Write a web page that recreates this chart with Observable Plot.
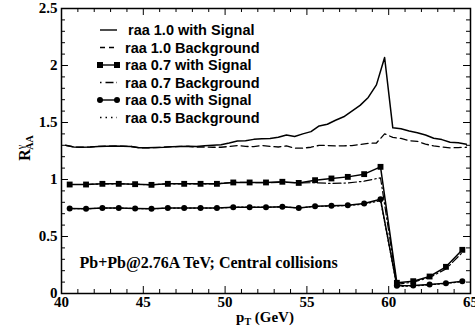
<!DOCTYPE html>
<html>
<head>
<meta charset="utf-8">
<script src="https://cdn.jsdelivr.net/npm/d3@7"></script>
<script src="https://cdn.jsdelivr.net/npm/@observablehq/plot@0.6"></script>
<style>
html,body{margin:0;padding:0;background:#fff;}
#chart{width:475px;height:330px;}
</style>
</head>
<body>
<div id="chart"></div>
<script>
// pT grid of the raa 1.0 curves
const ptFine = [40.25,40.75,41.25,41.75,42.25,42.75,43.25,43.75,44.25,44.75,
  45.25,45.75,46.25,46.75,47.25,47.75,48.25,48.75,49.25,49.75,
  50.25,50.75,51.25,51.75,52.25,52.75,53.25,53.75,54.25,54.75,
  55.25,55.75,56.25,56.75,57.25,57.75,58.25,58.75,59.25,59.75,
  60.25,60.75,61.25,61.75,62.25,62.75,63.25,63.75,64.25,64.75];
const raa10Signal = [1.300,1.285,1.283,1.285,1.290,1.292,1.293,1.292,1.290,1.278,
  1.278,1.280,1.283,1.288,1.290,1.292,1.290,1.295,1.300,1.305,
  1.320,1.337,1.340,1.352,1.357,1.360,1.370,1.390,1.377,1.400,
  1.420,1.470,1.485,1.520,1.550,1.600,1.650,1.720,1.830,2.070,
  1.453,1.445,1.425,1.410,1.390,1.362,1.350,1.327,1.322,1.310];
const raa10Bkg = [1.300,1.285,1.283,1.285,1.290,1.292,1.293,1.292,1.290,1.278,
  1.278,1.280,1.283,1.288,1.290,1.290,1.285,1.285,1.283,1.283,
  1.290,1.298,1.290,1.288,1.298,1.290,1.285,1.295,1.275,1.275,
  1.283,1.300,1.298,1.295,1.295,1.298,1.307,1.317,1.320,1.400,
  1.370,1.360,1.340,1.335,1.310,1.295,1.285,1.278,1.280,1.283];
// pT grid of the raa 0.7 / 0.5 curves
const ptCoarse = [40.5,41.5,42.5,43.5,44.5,45.5,46.5,47.5,48.5,49.5,
  50.5,51.5,52.5,53.5,54.5,55.5,56.5,57.5,58.5,59.5,
  60.5,61.5,62.5,63.5,64.5];
const raa07Signal = [0.956,0.956,0.962,0.962,0.959,0.953,0.962,0.962,0.962,0.962,
  0.974,0.974,0.974,0.980,0.970,0.994,1.009,1.023,1.047,1.111,
  0.094,0.108,0.149,0.234,0.383];
const raa07Bkg = [0.956,0.956,0.962,0.962,0.959,0.953,0.962,0.962,0.962,0.962,
  0.974,0.974,0.972,0.975,0.970,0.972,0.965,0.970,0.985,1.015,
  0.080,0.100,0.140,0.215,0.360];
const raa05Signal = [0.746,0.743,0.749,0.749,0.746,0.743,0.749,0.749,0.749,0.749,
  0.757,0.757,0.757,0.760,0.751,0.766,0.769,0.775,0.789,0.827,
  0.067,0.070,0.079,0.091,0.108];
const raa05Bkg = [0.746,0.743,0.749,0.749,0.746,0.743,0.749,0.749,0.749,0.749,
  0.757,0.757,0.757,0.760,0.751,0.764,0.767,0.772,0.784,0.815,
  0.062,0.066,0.076,0.088,0.104];

const xMajor = [40,45,50,55,60,65];
const yMajor = [0,0.5,1,1.5,2,2.5];
const xMinor = d3.range(40,66,1).filter(v => v % 5 !== 0);
const yMinor = d3.range(0,26).map(i => i/10).filter((v,i) => i % 5 !== 0);

const legendLabels = ["raa 1.0 with Signal","raa 1.0 Background","raa 0.7 with Signal",
  "raa 0.7 Background","raa 0.5 with Signal","raa 0.5 Background"];
const annotation = "Pb+Pb@2.76A TeV; Central collisions";

const zip = (xs, ys) => xs.map((x,i) => ({x, y: ys[i]}));
const s10 = zip(ptFine, raa10Signal), b10 = zip(ptFine, raa10Bkg);
const s07 = zip(ptCoarse, raa07Signal), b07 = zip(ptCoarse, raa07Bkg);
const s05 = zip(ptCoarse, raa05Signal), b05 = zip(ptCoarse, raa05Bkg);

const serif = "'Liberation Serif','Times New Roman',serif";
const xs = 25/410, ys = 2.5/285; // data units per pixel (for tick lengths)

const plot = Plot.plot({
  width: 475, height: 330,
  marginLeft: 61, marginRight: 5, marginTop: 8, marginBottom: 37,
  style: {fontFamily: serif, fontWeight: "bold", fontSize: "15px", background: "#fff", color: "#000", overflow: "visible"},
  x: {domain: [40,65]},
  y: {domain: [0,2.5]},
  marks: [
    Plot.axisX({ticks: xMajor, tickSize: 0, tickPadding: 3, label: null, tickFormat: d => String(d)}),
    Plot.axisY({ticks: yMajor, tickSize: 0, tickPadding: 4, label: null, tickFormat: d => String(d)}),
    // inward ticks
    Plot.ruleX(xMajor, {x: d => d, y1: 0, y2: 7*ys, stroke: "#000"}),
    Plot.ruleX(xMajor, {x: d => d, y1: 2.5, y2: 2.5-7*ys, stroke: "#000"}),
    Plot.ruleX(xMinor, {x: d => d, y1: 0, y2: 4*ys, stroke: "#000"}),
    Plot.ruleX(xMinor, {x: d => d, y1: 2.5, y2: 2.5-4*ys, stroke: "#000"}),
    Plot.ruleY(yMajor, {y: d => d, x1: 40, x2: 40+7*xs, stroke: "#000"}),
    Plot.ruleY(yMajor, {y: d => d, x1: 65, x2: 65-7*xs, stroke: "#000"}),
    Plot.ruleY(yMinor, {y: d => d, x1: 40, x2: 40+4*xs, stroke: "#000"}),
    Plot.ruleY(yMinor, {y: d => d, x1: 65, x2: 65-4*xs, stroke: "#000"}),
    // curves
    Plot.line(b10, {x: "x", y: "y", stroke: "#000", strokeWidth: 1.3, strokeDasharray: "7,4"}),
    Plot.line(s10, {x: "x", y: "y", stroke: "#000", strokeWidth: 1.5}),
    Plot.line(b07, {x: "x", y: "y", stroke: "#000", strokeWidth: 1.2, strokeDasharray: "8,3,1.5,3"}),
    Plot.line(s07, {x: "x", y: "y", stroke: "#000", strokeWidth: 1.5}),
    Plot.dot(s07, {x: "x", y: "y", symbol: "square", r: 3.3, fill: "#000", stroke: "none"}),
    Plot.line(b05, {x: "x", y: "y", stroke: "#000", strokeWidth: 1.2, strokeDasharray: "1.5,2.5"}),
    Plot.line(s05, {x: "x", y: "y", stroke: "#000", strokeWidth: 1.5}),
    Plot.dot(s05, {x: "x", y: "y", symbol: "circle", r: 3, fill: "#000", stroke: "none"}),
    Plot.text([annotation], {x: 41.1, y: 0.27, text: d => d,
      textAnchor: "start", fontSize: 16, fontWeight: "bold", fontFamily: serif, fill: "#000"}),
    Plot.frame({stroke: "#000", strokeWidth: 1.5})
  ]
});
document.getElementById("chart").appendChild(plot);

const svg = d3.select(plot);
// axis titles
const xt = svg.append("text").attr("x", 265).attr("y", 322).attr("text-anchor", "middle")
  .attr("font-family", serif).attr("font-weight", "bold").attr("font-size", 15).attr("fill", "#000");
xt.append("tspan").text("p");
xt.append("tspan").attr("font-size", 10).attr("dy", 3).text("T");
xt.append("tspan").attr("dy", -3).text(" (GeV)");

const yt = svg.append("text").attr("transform", "translate(30,148) rotate(-90)").attr("text-anchor", "middle")
  .attr("font-family", serif).attr("font-weight", "bold").attr("font-size", 16).attr("fill", "#000");
yt.append("tspan").text("R");
yt.append("tspan").attr("font-size", 10).attr("dy", -6).attr("font-weight", "normal").text("γ");
yt.append("tspan").attr("font-size", 10).attr("dy", 9).attr("dx", -5).text("AA");

// legend
const lg = svg.append("g").attr("font-family", "'Liberation Sans Narrow','Liberation Sans',Arial,sans-serif")
  .attr("font-size", 14.5).attr("font-weight", "bold").attr("fill", "#000").attr("text-anchor", "start");
const styles = [
  {dash: null, marker: null},
  {dash: "5,4", marker: null},
  {dash: null, marker: "square"},
  {dash: "1.5,4,8,3", marker: null},
  {dash: null, marker: "circle"},
  {dash: "1.5,4", marker: null}
];
legendLabels.forEach((lab, i) => {
  const yy = 30 + i*17.5;
  const st = styles[i];
  const ln = lg.append("line").attr("x1", 100).attr("x2", 117).attr("y1", yy).attr("y2", yy)
    .attr("stroke", "#000").attr("stroke-width", 1.4);
  if (st.dash) ln.attr("stroke-dasharray", st.dash);
  if (st.marker === "square") {
    [100,117].forEach(px => lg.append("rect").attr("x", px-3).attr("y", yy-3).attr("width", 6).attr("height", 6).attr("fill", "#000"));
  } else if (st.marker === "circle") {
    [100,117].forEach(px => lg.append("circle").attr("cx", px).attr("cy", yy).attr("r", 3).attr("fill", "#000"));
  }
  lg.append("text").attr("x", i === 0 ? 128 : 125).attr("y", yy).attr("dy", "0.35em")
    .attr("text-anchor", "start").text(lab);
});
</script>
</body>
</html>
